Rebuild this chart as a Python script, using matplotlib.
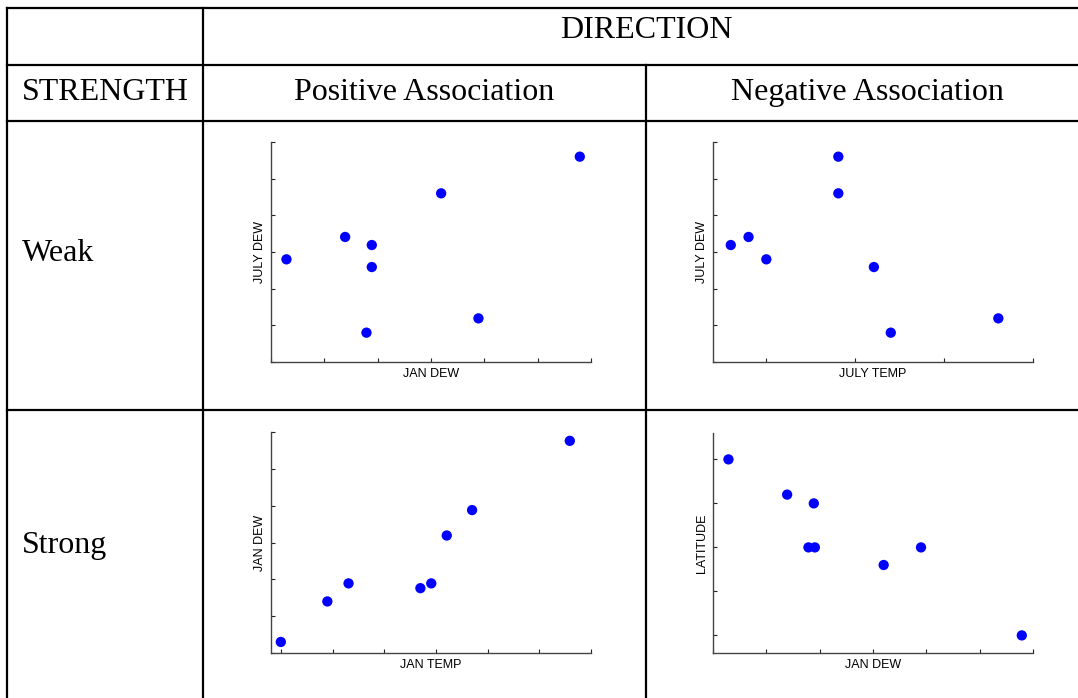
import matplotlib
matplotlib.use("Agg")
import matplotlib.pyplot as plt
from matplotlib.lines import Line2D

# values, in axis tick units (tick labels are hidden)
jan_dew_a = [0.29, 1.39, 1.89, 1.89, 1.79, 3.19, 3.89, 5.79]
july_dew_a = [2.80, 3.41, 3.19, 2.59, 0.80, 4.60, 1.19, 5.60]

july_temp_b = [0.60, 0.80, 1.00, 1.81, 1.81, 2.21, 2.40, 3.61]
july_dew_b = [3.19, 3.41, 2.80, 5.60, 4.60, 2.59, 0.80, 1.19]

jan_temp_c = [0.00, 0.90, 1.31, 2.70, 2.91, 3.21, 3.70, 5.59]
jan_dew_c = [0.30, 1.40, 1.89, 1.76, 1.89, 3.19, 3.88, 5.76]

jan_dew_d = [0.29, 1.39, 1.89, 1.79, 1.91, 3.20, 3.90, 5.79]
latitude_d = [4.00, 3.20, 3.00, 2.00, 2.00, 1.60, 2.00, 0.00]

W, H = 1078, 698
fig = plt.figure(figsize=(W / 100, H / 100), dpi=100)


def fx(px):
    return px / W


def fy(py):
    return 1 - py / H


def hline(y, x0, x1):
    fig.add_artist(Line2D([fx(x0), fx(x1)], [fy(y), fy(y)], color="black", lw=1.6))


def vline(x, y0, y1):
    fig.add_artist(Line2D([fx(x), fx(x)], [fy(y0), fy(y1)], color="black", lw=1.6))


# table grid
hline(8, 7, 1090)
hline(65, 7, 1090)
hline(121, 7, 1090)
hline(410, 7, 1090)
vline(7, 8, 700)
vline(203, 8, 700)
vline(646, 65, 700)

serif = dict(family="Liberation Serif", fontsize=23, color="black", va="baseline")
fig.text(fx(646), fy(38), "DIRECTION", ha="center", **serif)
fig.text(fx(22), fy(100), "STRENGTH", ha="left", **serif)
fig.text(fx(424), fy(100), "Positive Association", ha="center", **serif)
fig.text(fx(867), fy(100), "Negative Association", ha="center", **serif)
fig.text(fx(22), fy(261), "Weak", ha="left", **serif)
fig.text(fx(22), fy(553), "Strong", ha="left", **serif)


def panel(box, x, y, xlabel, ylabel, xlim, ylim, xticks, yticks):
    left, right, top, bottom = box
    ax = fig.add_axes([fx(left), fy(bottom), (right - left) / W, (bottom - top) / H])
    ax.scatter(x, y, s=55, color="#0000ff", edgecolors="none", zorder=3, clip_on=False)
    ax.set_xlim(*xlim)
    ax.set_ylim(*ylim)
    ax.set_xticks(xticks)
    ax.set_yticks(yticks)
    ax.set_xticklabels([])
    ax.set_yticklabels([])
    ax.spines["top"].set_visible(False)
    ax.spines["right"].set_visible(False)
    for s in ("left", "bottom"):
        ax.spines[s].set_color("#444444")
        ax.spines[s].set_linewidth(1.0)
    ax.tick_params(direction="in", length=3, width=0.8, color="#222222")
    ax.set_xlabel(xlabel, family="Liberation Sans", fontsize=9, labelpad=0.5)
    ax.set_ylabel(ylabel, family="Liberation Sans", fontsize=9, labelpad=0)
    ax.patch.set_alpha(0)
    return ax


panel((271, 591, 142, 362), jan_dew_a, july_dew_a, "JAN DEW", "JULY DEW",
      (0, 6), (0, 6), range(0, 7), range(0, 7))
panel((713, 1033, 142, 362), july_temp_b, july_dew_b, "JULY TEMP", "JULY DEW",
      (0.4, 4), (0, 6), range(1, 5), range(0, 7))
panel((271, 591, 432, 653), jan_temp_c, jan_dew_c, "JAN TEMP", "JAN DEW",
      (-0.19, 6), (0, 6), range(0, 7), range(0, 7))
panel((713, 1033, 433, 653), jan_dew_d, latitude_d, "JAN DEW", "LATITUDE",
      (0, 6), (-0.4, 4.6), range(0, 7), range(0, 5))

fig.savefig("out.png", dpi=100, facecolor="white")
